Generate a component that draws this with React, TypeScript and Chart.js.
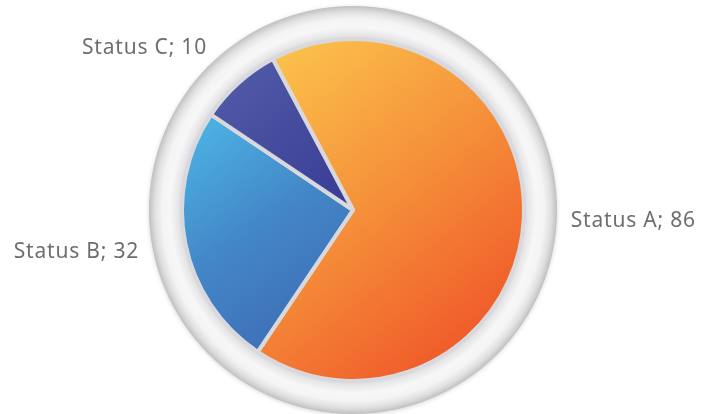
import React, { useEffect, useRef } from "react";
import { Chart, registerables } from "chart.js";

Chart.register(...registerables);

const categories = ["Status A", "Status B", "Status C"];
const values = [86, 32, 10];
const colorStops: string[][] = [
  ["#FDC84E", "#F5913A", "#EE4624"],
  ["#4EB9E9", "#4388C8", "#3D63B0"],
  ["#545FAA", "#474E9F", "#383C95"],
];

const ROTATION = -28;
const W = 705;
const H = 414;

function sliceGradient(chart: any, index: number) {
  const area = chart.chartArea;
  const stops = colorStops[index];
  if (!area) return stops[1];
  const cx = (area.left + area.right) / 2;
  const cy = (area.top + area.bottom) / 2;
  const r = Math.min(area.width, area.height) / 2;
  const total = values.reduce((a, b) => a + b, 0);
  let before = 0;
  for (let i = 0; i < index; i++) before += values[i];
  const start = -Math.PI / 2 + (ROTATION * Math.PI) / 180;
  const a0 = start + (before / total) * Math.PI * 2;
  const a1 = a0 + (values[index] / total) * Math.PI * 2;
  const pts: [number, number][] = [[cx, cy]];
  pts.push([cx + r * Math.cos(a0), cy + r * Math.sin(a0)]);
  pts.push([cx + r * Math.cos(a1), cy + r * Math.sin(a1)]);
  for (let k = -4; k <= 8; k++) {
    const a = (k * Math.PI) / 2;
    if (a > a0 && a < a1) pts.push([cx + r * Math.cos(a), cy + r * Math.sin(a)]);
  }
  const xs = pts.map((p) => p[0]);
  const ys = pts.map((p) => p[1]);
  const g = chart.ctx.createLinearGradient(
    Math.min(...xs),
    Math.min(...ys),
    Math.max(...xs),
    Math.max(...ys)
  );
  g.addColorStop(0, stops[0]);
  g.addColorStop(0.45, stops[1]);
  g.addColorStop(1, stops[2]);
  return g;
}

const bezelPlugin = {
  id: "bezel",
  beforeDatasetsDraw(chart: any) {
    const arc = chart.getDatasetMeta(0).data[0] as any;
    if (!arc) return;
    const { x, y, outerRadius } = arc;
    const ctx = chart.ctx;
    const R = outerRadius + 33;
    ctx.save();
    ctx.shadowColor = "rgba(0,0,0,0.16)";
    ctx.shadowBlur = 4;
    ctx.shadowOffsetY = 1;
    const g = ctx.createRadialGradient(x, y, outerRadius - 2, x, y, R);
    const span = R - (outerRadius - 2);
    const at = (d: number) => Math.min(1, Math.max(0, d / span));
    g.addColorStop(0, "#d2d2d7");
    g.addColorStop(at(6), "#e6e6e9");
    g.addColorStop(at(14), "#f7f7f7");
    g.addColorStop(at(22), "#f4f4f4");
    g.addColorStop(at(29), "#e0e0e0");
    g.addColorStop(at(33), "#cbcbcb");
    g.addColorStop(1, "#bfbfbf");
    ctx.beginPath();
    ctx.arc(x, y, R, 0, Math.PI * 2);
    ctx.fillStyle = g;
    ctx.fill();
    ctx.restore();
  },
};

const labelPlugin = {
  id: "outerLabels",
  afterDatasetsDraw(chart: any) {
    const ctx = chart.ctx;
    const meta = chart.getDatasetMeta(0);
    ctx.save();
    ctx.font = "400 21px 'Noto Sans', 'Open Sans', sans-serif";
    (ctx as any).letterSpacing = "0.8px";
    ctx.fillStyle = "#6e6e6e";
    ctx.textBaseline = "middle";
    meta.data.forEach((el: any, i: number) => {
      const mid = (el.startAngle + el.endAngle) / 2;
      const R = el.outerRadius + 47;
      const lx = el.x + R * Math.cos(mid);
      const ly = el.y + R * Math.sin(mid);
      ctx.textAlign = Math.cos(mid) >= 0 ? "left" : "right";
      ctx.fillText(`${categories[i]}; ${values[i]}`, lx, ly);
    });
    ctx.restore();
  },
};

export default function App() {
  const ref = useRef<HTMLCanvasElement | null>(null);
  useEffect(() => {
    document.body.style.margin = "0";
    const canvas = ref.current;
    if (!canvas) return;
    const chart = new Chart(canvas, {
      type: "pie",
      data: {
        labels: categories,
        datasets: [
          {
            data: values,
            backgroundColor: (c: any) => sliceGradient(c.chart, c.dataIndex),
            borderColor: "#d9d9dd",
            borderWidth: 4,
            hoverOffset: 0,
          },
        ],
      },
      options: {
        responsive: false,
        animation: false,
        rotation: ROTATION,
        events: [],
        layout: { padding: { left: 180, right: 179, top: 37, bottom: 31 } },
        plugins: {
          legend: { display: false },
          tooltip: { enabled: false },
        },
      },
      plugins: [bezelPlugin, labelPlugin],
    });
    return () => chart.destroy();
  }, []);
  return (
    <div style={{ width: W, height: H, background: "#ffffff" }}>
      <canvas ref={ref} width={W} height={H} style={{ width: W, height: H, display: "block" }} />
    </div>
  );
}
